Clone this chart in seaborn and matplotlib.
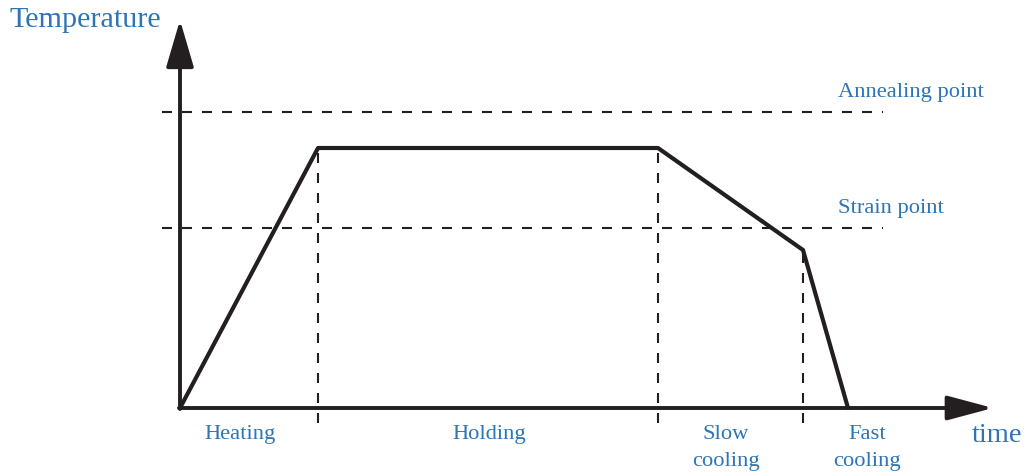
import numpy as np
import pandas as pd
import matplotlib
matplotlib.use("Agg")
import matplotlib.pyplot as plt
import seaborn as sns

# annealing schedule (abstract units: time / temperature)
times = [0, 138, 478, 623, 668]
temps = [0, 260, 260, 158, 0]
annealing_pt = 296
strain_pt = 180
phase_names = ["Heating", "Holding", "Slow\ncooling", "Fast\ncooling"]
phase_centers = [60, 309, 546, 687]

line_col = "#231f20"
text_col = "#2e75b6"

sns.set_theme(style="white")
plt.rcParams["font.family"] = ["Liberation Serif", "DejaVu Serif"]

fig = plt.figure(figsize=(10.27, 4.76), dpi=100)
ax = fig.add_axes([0, 0, 1, 1])
ax.set_xlim(-180, 847)
ax.set_ylim(-68, 408)
ax.axis("off")

df = pd.DataFrame({"time": times, "temp": temps})

# reference levels
for lvl, name in [(annealing_pt, "Annealing point"), (strain_pt, "Strain point")]:
    ax.plot([-18, 703], [lvl, lvl], color=line_col, lw=1.5, ls=(0, (4.8, 4.8)))
    ax.text(658, lvl + 10, name, color=text_col, fontsize=16.2, va="bottom", ha="left")

# phase boundaries
for t, T in zip(times[1:4], temps[1:4]):
    ax.plot([t, t], [-15, T], color=line_col, lw=1.5, ls=(0, (4.8, 4.8)))

# axes arrows
arr = dict(arrowstyle="-|>,head_length=28,head_width=7.5", mutation_scale=1,
           lw=2.8, color=line_col, shrinkA=0, shrinkB=0)
ax.annotate("", xy=(813, 0), xytext=(-1, 0), arrowprops=arr)
arr2 = dict(arr, arrowstyle="-|>,head_length=29,head_width=8.5")
ax.annotate("", xy=(0, 388), xytext=(0, -1), arrowprops=arr2)

sns.lineplot(data=df, x="time", y="temp", ax=ax, color=line_col, lw=3,
             sort=False, estimator=None)

for c, name in zip(phase_centers, phase_names):
    ax.text(c, -17, name, color=text_col, fontsize=16.2, ha="center", va="top",
            linespacing=1.55)

ax.text(-170, 388, "Temperature", color=text_col, fontsize=21.7, ha="left", va="center")
ax.text(792, -27, "time", color=text_col, fontsize=20.5, ha="left", va="center")

fig.savefig("out.png", dpi=100)
